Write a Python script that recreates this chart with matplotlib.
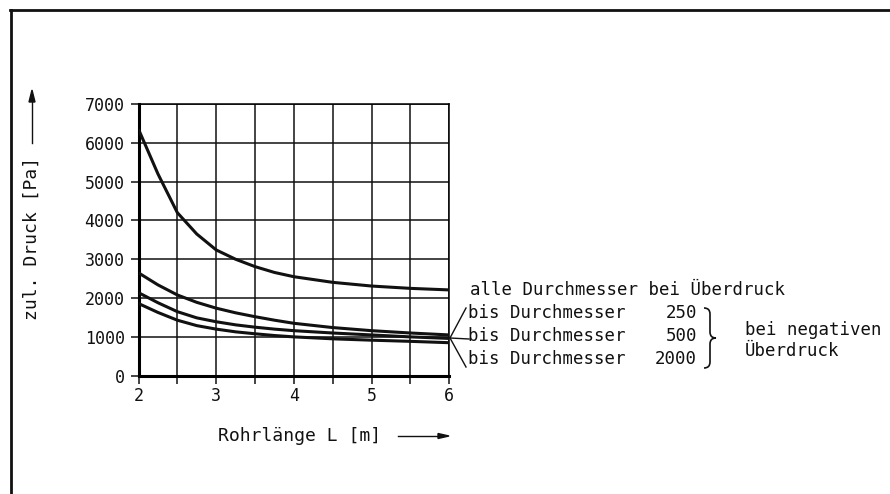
import matplotlib.pyplot as plt
from matplotlib.lines import Line2D
from matplotlib.path import Path
from matplotlib.patches import PathPatch

# Rohrlänge L [m]
laenge = [2, 2.25, 2.5, 2.75, 3, 3.25, 3.5, 3.75, 4, 4.5, 5, 5.5, 6]
# zul. Druck [Pa]
ueberdruck = [6350, 5200, 4200, 3650, 3240, 3000, 2810, 2660, 2550, 2405, 2310, 2250, 2210]
dn250 = [2650, 2340, 2080, 1890, 1740, 1620, 1520, 1430, 1350, 1240, 1160, 1100, 1050]
dn500 = [2140, 1880, 1650, 1490, 1390, 1310, 1250, 1200, 1160, 1100, 1050, 1000, 960]
dn2000 = [1860, 1630, 1430, 1290, 1200, 1130, 1080, 1035, 1000, 950, 915, 885, 850]

plt.rcParams['font.family'] = 'DejaVu Sans Mono'
plt.rcParams['text.color'] = '#111111'

W, H = 890, 494
fig = plt.figure(figsize=(W / 100, H / 100), dpi=100)


def px(x, y):
    # pixel position -> figure fraction
    return x / W, 1 - y / H


ax = fig.add_axes([138.5 / W, 1 - 375.7 / H, 310.8 / W, 271.7 / H])

for y in [ueberdruck, dn250, dn500, dn2000]:
    ax.plot(laenge, y, color='#111111', lw=2.2, solid_capstyle='butt', zorder=3)

ax.set_xlim(2, 6)
ax.set_ylim(0, 7000)
ax.set_xticks([2, 2.5, 3, 3.5, 4, 4.5, 5, 5.5, 6])
ax.set_xticklabels(['2', '', '3', '', '4', '', '5', '', '6'])
ax.set_yticks(range(0, 7001, 1000))
ax.grid(True, color='#111111', lw=1.1)
ax.tick_params(direction='out', length=6, width=1.1, labelsize=12, colors='#111111')
ax.tick_params(axis='x', pad=2)
ax.tick_params(axis='y', pad=4)
for s in ['left', 'bottom']:
    ax.spines[s].set_linewidth(2.2)
for s in ['right', 'top']:
    ax.spines[s].set_linewidth(1.1)
ax.set_axisbelow(True)

# frame around the drawing (only top and left visible)
fig.add_artist(Line2D([px(11, 0)[0], px(11, 0)[0]], [px(0, 10)[1], 0], color='#111111', lw=2,
                      transform=fig.transFigure))
fig.add_artist(Line2D([px(10, 0)[0], 1], [px(0, 10)[1], px(0, 10)[1]], color='#111111', lw=2,
                      transform=fig.transFigure))

# axis labels with arrows
fig.text(*px(32, 238), 'zul. Druck [Pa]', rotation=90, ha='center', va='center', fontsize=13)
fig.add_artist(Line2D([px(32, 0)[0]] * 2, [px(0, 143)[1], px(0, 100)[1]], color='#111111', lw=1,
                      transform=fig.transFigure))
fig.patches.append(plt.Polygon([px(29, 102), px(35, 102), px(32, 90)], closed=True,
                               transform=fig.transFigure, color='#111111', figure=fig))

fig.text(*px(300, 436), 'Rohrlänge L [m]', ha='center', va='center', fontsize=13)
fig.add_artist(Line2D([px(398, 0)[0], px(440, 0)[0]], [px(0, 436)[1]] * 2, color='#111111', lw=1,
                      transform=fig.transFigure))
fig.patches.append(plt.Polygon([px(438, 433.5), px(438, 438.5), px(449, 436)], closed=True,
                               transform=fig.transFigure, color='#111111', figure=fig))

# annotations
fs = 12.5
fig.text(*px(470, 290), 'alle Durchmesser bei Überdruck', ha='left', va='center', fontsize=fs)
fig.text(*px(468, 313), 'bis Durchmesser', ha='left', va='center', fontsize=fs)
fig.text(*px(468, 336), 'bis Durchmesser', ha='left', va='center', fontsize=fs)
fig.text(*px(468, 359), 'bis Durchmesser', ha='left', va='center', fontsize=fs)
fig.text(*px(697, 313), '250', ha='right', va='center', fontsize=fs)
fig.text(*px(697, 336), '500', ha='right', va='center', fontsize=fs)
fig.text(*px(697, 359), '2000', ha='right', va='center', fontsize=fs)
fig.text(*px(745, 330), 'bei negativen', ha='left', va='center', fontsize=fs)
fig.text(*px(745, 351), 'Überdruck', ha='left', va='center', fontsize=fs)

# leader lines from the curve ends
for tx, ty in [(466, 308), (469, 339), (466, 367)]:
    fig.add_artist(Line2D([px(450, 0)[0], px(tx, 0)[0]], [px(0, 338)[1], px(0, ty)[1]],
                          color='#111111', lw=1, transform=fig.transFigure))

# curly brace
x0, x1, xm = 704, 710, 716
y0, y1, ym = 308, 368, 338
verts = [px(x0, y0), px(x1, y0), px(x1, y0 + 6), px(x1, ym - 6),
         px(x1, ym), px(xm, ym), px(x1, ym), px(x1, ym + 6),
         px(x1, y1 - 6), px(x1, y1), px(x0, y1)]
codes = [Path.MOVETO, Path.CURVE3, Path.CURVE3, Path.LINETO,
         Path.CURVE3, Path.CURVE3, Path.CURVE3, Path.CURVE3,
         Path.LINETO, Path.CURVE3, Path.CURVE3]
fig.patches.append(PathPatch(Path(verts, codes), fill=False, lw=1.2, color='#111111',
                             transform=fig.transFigure, figure=fig))

fig.savefig('out.png', dpi=100)
